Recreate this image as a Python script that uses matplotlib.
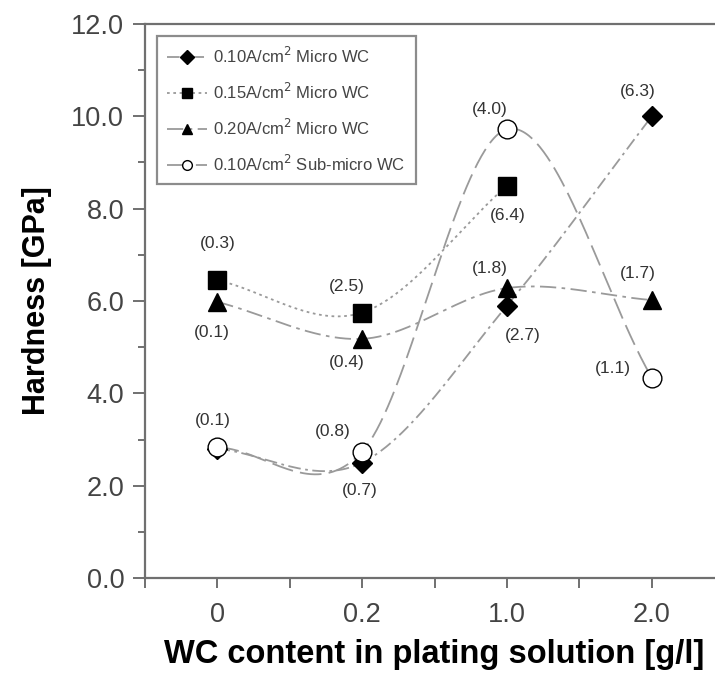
import numpy as np
import matplotlib
matplotlib.use("Agg")
import matplotlib.pyplot as plt
from matplotlib.ticker import MultipleLocator, FormatStrFormatter

plt.rcParams['font.family'] = ['Liberation Sans', 'DejaVu Sans']

categories = ['0', '0.2', '1.0', '2.0']

# hardness values [GPa]
micro_010 = [2.8, 2.5, 5.9, 10.0]
micro_015 = [6.45, 5.75, 8.5]
micro_020 = [5.98, 5.18, 6.28, 6.02]
submicro_010 = [2.83, 2.74, 9.72, 4.34]

# standard deviations shown next to points (None = no label)
micro_010_sd = [None, '(0.7)', '(2.7)', '(6.3)']
micro_015_sd = ['(0.3)', '(2.5)', '(6.4)']
micro_020_sd = ['(0.1)', '(0.4)', '(1.8)', '(1.7)']
submicro_010_sd = ['(0.1)', '(0.8)', '(4.0)', '(1.1)']


def smooth_curve(y, n=80):
    # Catmull-Rom spline through equally spaced points
    y = np.asarray(y, float)
    m = np.empty_like(y)
    m[0] = y[1] - y[0]
    m[-1] = y[-1] - y[-2]
    m[1:-1] = (y[2:] - y[:-2]) / 2
    xs, ys = [], []
    for i in range(len(y) - 1):
        t = np.linspace(0, 1, n)
        h00 = 2 * t**3 - 3 * t**2 + 1
        h10 = t**3 - 2 * t**2 + t
        h01 = -2 * t**3 + 3 * t**2
        h11 = t**3 - t**2
        xs.append(i + t)
        ys.append(h00 * y[i] + h10 * m[i] + h01 * y[i + 1] + h11 * m[i + 1])
    return np.concatenate(xs), np.concatenate(ys)


fig = plt.figure(figsize=(7.15, 6.79), dpi=100)
ax = fig.add_axes([0.2028, 0.1487, 0.81, 0.816])

line_col = '#9a9a9a'
series = [
    (micro_010, micro_010_sd, 'D', 'black', (0, (7, 2.5, 1.5, 2.5)), 10,
     r'0.10A/cm$^2$ Micro WC',
     [(0, 0), (-2, -28), (16, -30), (-14, 25)]),
    (micro_015, micro_015_sd, 's', 'black', (0, (1.5, 2)), 13,
     r'0.15A/cm$^2$ Micro WC',
     [(0, 37), (-15, 26), (1, -30)]),
    (micro_020, micro_020_sd, '^', 'black', (0, (9, 3, 2, 3)), 13,
     r'0.20A/cm$^2$ Micro WC',
     [(-6, -31), (-15, -24), (-17, 20), (-14, 27)]),
    (submicro_010, submicro_010_sd, 'o', 'white', (0, (12, 4)), 13.5,
     r'0.10A/cm$^2$ Sub-micro WC',
     [(-5, 27), (-29, 20), (-17, 20), (-39, 9)]),
]

for vals, sds, mk, fc, ls, ms, label, offs in series:
    xi = np.arange(len(vals))
    xs, ys = smooth_curve(vals)
    ax.plot(xs, ys, color=line_col, lw=1.3, linestyle=ls, zorder=2)
    ax.plot(xi, vals, linestyle='none', marker=mk, markersize=ms,
            markerfacecolor=fc, markeredgecolor='black', markeredgewidth=1.0,
            zorder=3)
    ax.plot([], [], color=line_col, lw=1.3, linestyle=ls, marker=mk,
            markersize=7, markerfacecolor=fc, markeredgecolor='black',
            label=label)
    for x, v, sd, off in zip(xi, vals, sds, offs):
        if sd is None:
            continue
        ax.annotate(sd, (x, v), xytext=off, textcoords='offset pixels',
                    ha='center', va='center', fontsize=12.5, color='#333333')

ax.set_xlim(-0.5, 3.5)
ax.set_ylim(0, 12)
ax.set_xticks(range(len(categories)))
ax.set_xticklabels(categories)
ax.xaxis.set_minor_locator(MultipleLocator(0.5))
ax.yaxis.set_major_locator(MultipleLocator(2))
ax.yaxis.set_minor_locator(MultipleLocator(1))
ax.yaxis.set_major_formatter(FormatStrFormatter('%.1f'))

for sp in ax.spines.values():
    sp.set_color('#707070')
    sp.set_linewidth(1.6)
ax.tick_params(axis='both', which='both', direction='out', color='#707070',
               width=1.4)
ax.tick_params(axis='y', which='major', length=9, labelsize=19.5,
               labelcolor='#444444', pad=6)
ax.tick_params(axis='y', which='minor', length=5)
ax.tick_params(axis='x', which='both', length=7, labelsize=19.5,
               labelcolor='#444444', pad=10)

ax.set_ylabel('Hardness [GPa]', fontsize=22, fontweight='bold', labelpad=14)
ax.set_xlabel('WC content in plating solution [g/l]', fontsize=23.5,
              fontweight='bold', labelpad=8)

leg = ax.legend(loc='upper left', bbox_to_anchor=(0.006, 0.993),
                fontsize=12, frameon=True, fancybox=False,
                handlelength=2.4, labelspacing=0.95, borderpad=0.6,
                handletextpad=0.4)
leg.get_frame().set_edgecolor('#707070')
leg.get_frame().set_linewidth(1.6)
for t in leg.get_texts():
    t.set_color('#444444')

fig.savefig('out.png', dpi=100)
